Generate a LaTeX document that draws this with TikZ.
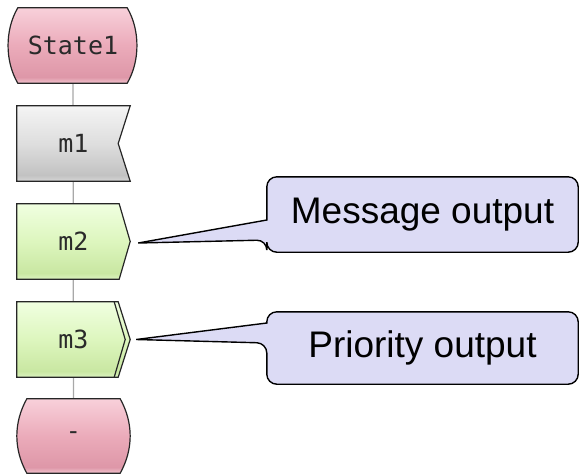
\documentclass[tikz,border=0pt]{standalone}
\usepackage{fontspec}
\setmainfont{Liberation Sans}
\newfontfamily\codefont{DejaVu Sans Mono}
\usetikzlibrary{calc}

% palette
\definecolor{pkTop}{HTML}{F8D0DA}
\definecolor{pkMid}{HTML}{EBABBA}
\definecolor{pkDeep}{HTML}{DE97A8}
\definecolor{pkEdge}{HTML}{F2C3CE}
\definecolor{gyTop}{HTML}{F4F4F4}
\definecolor{gyMid}{HTML}{DEDEDE}
\definecolor{gyDeep}{HTML}{C2C2C2}
\definecolor{gyEdge}{HTML}{D6D6D6}
\definecolor{grTop}{HTML}{F0FFE0}
\definecolor{grMid}{HTML}{DDF6BE}
\definecolor{grDeep}{HTML}{C9E7A2}
\definecolor{grEdge}{HTML}{DCF3C0}
\definecolor{noteFill}{HTML}{DCDBF5}
\definecolor{flowLine}{HTML}{A8A8A8}
\definecolor{codeInk}{HTML}{2A2A2A}

\pgfdeclareverticalshading{pinkfill}{100bp}{color(0bp)=(pkEdge); color(25bp)=(pkEdge); color(29bp)=(pkDeep); color(50bp)=(pkMid); color(75bp)=(pkTop); color(100bp)=(pkTop)}
\pgfdeclareverticalshading{grayfill}{100bp}{color(0bp)=(gyEdge); color(25bp)=(gyEdge); color(29bp)=(gyDeep); color(50bp)=(gyMid); color(75bp)=(gyTop); color(100bp)=(gyTop)}
\pgfdeclareverticalshading{greenfill}{100bp}{color(0bp)=(grEdge); color(25bp)=(grEdge); color(29bp)=(grDeep); color(50bp)=(grMid); color(75bp)=(grTop); color(100bp)=(grTop)}

\pgfdeclarelayer{back}
\pgfdeclarelayer{mid}
\pgfsetlayers{back,mid,main}

\tikzset{
  slot/.style={inner sep=0pt, text=codeInk, font=\codefont\fontsize{25}{28}\selectfont},
  outline/.style={draw=black!85, line width=1.2pt, shade},
  flow/.style={draw=flowLine, line width=1.2pt},
  notetext/.style={inner sep=0pt, font=\fontsize{37}{42}\selectfont},
  callout/.style={draw=black, line width=1.4pt, fill=noteFill, line join=miter}
}

\begin{document}
\begin{tikzpicture}[x=1pt,y=-1pt]
\useasboundingbox (0,0) rectangle (579,475);

% flow nodes
\node[slot, minimum width=128pt, minimum height=75pt] (s1) at (73,45.5) {State1};
\node[slot, minimum width=113pt, minimum height=75pt] (m1) at (73.5,143.5) {m1};
\node[slot, minimum width=113pt, minimum height=75pt] (m2) at (73.5,241.5) {m2};
\node[slot, minimum width=113pt, minimum height=75pt] (m3) at (73.5,339.5) {m3};
\node[slot, minimum width=113pt, minimum height=74pt] (stop) at (73.5,436) {-};

% note texts
\node[notetext, minimum width=311pt, minimum height=75pt] (msg) at (422.5,214.5) {Message output};
\node[notetext, minimum width=311pt, minimum height=72pt] (pri) at (422.5,348) {Priority output};

\coordinate (tip1) at ($(m2.east)+(8,1.5)$);
\coordinate (tip2) at ($(m3.east)+(6,0)$);

% vertical flow line
\begin{pgfonlayer}{back}
  \draw[flow] (s1) -- (stop);
\end{pgfonlayer}

\begin{pgfonlayer}{mid}
  % start state
  \path[outline, shading=pinkfill]
    ([xshift=9pt]s1.north west) -- ([xshift=-10pt]s1.north east)
    .. controls +(13,22) and +(13,-22) .. ([xshift=-10pt]s1.south east)
    -- ([xshift=9pt]s1.south west)
    .. controls +(-13,-22) and +(-13,22) .. ([xshift=9pt]s1.north west) -- cycle;
  % input signal
  \path[outline, shading=grayfill]
    (m1.north west) -- (m1.north east) -- ([xshift=-12pt]m1.east)
    -- (m1.south east) -- (m1.south west) -- cycle;
  % output signal
  \path[outline, shading=greenfill]
    (m2.north west) -- ([xshift=-11pt]m2.north east) -- (m2.east)
    -- ([xshift=-11pt]m2.south east) -- (m2.south west) -- cycle;
  % priority output signal
  \path[outline, shading=greenfill]
    (m3.north west) -- ([xshift=-12pt]m3.north east) -- (m3.east)
    -- ([xshift=-12pt]m3.south east) -- (m3.south west) -- cycle;
  \draw[draw=black!85, line width=1.2pt]
    ([xshift=-16pt]m3.north east) -- ([xshift=-5pt]m3.east) -- ([xshift=-16pt]m3.south east);
  % next state
  \path[outline, shading=pinkfill]
    ([xshift=10pt]stop.north west) -- ([xshift=-10pt]stop.north east)
    .. controls +(13.3,24) and +(13.3,-24) .. ([xshift=-10pt]stop.south east)
    -- ([xshift=10pt]stop.south west)
    .. controls +(-13.3,-24) and +(-13.3,24) .. ([xshift=10pt]stop.north west) -- cycle;

  % notes
  \path[callout] (tip1) -- ($(msg.west)+(0,5.5)$) [rounded corners=10pt]
    -- (msg.north west) -- (msg.north east) -- (msg.south east) -- (msg.south west)
    -- ($(msg.west)+(0,25.5)$) [sharp corners] -- cycle;
  \path[callout] (tip2) -- ($(pri.west)+(0,-25)$) [rounded corners=10pt]
    -- (pri.north west) -- (pri.north east) -- (pri.south east) -- (pri.south west)
    -- ($(pri.west)+(0,-5)$) [sharp corners] -- cycle;
\end{pgfonlayer}
\end{tikzpicture}
\end{document}
